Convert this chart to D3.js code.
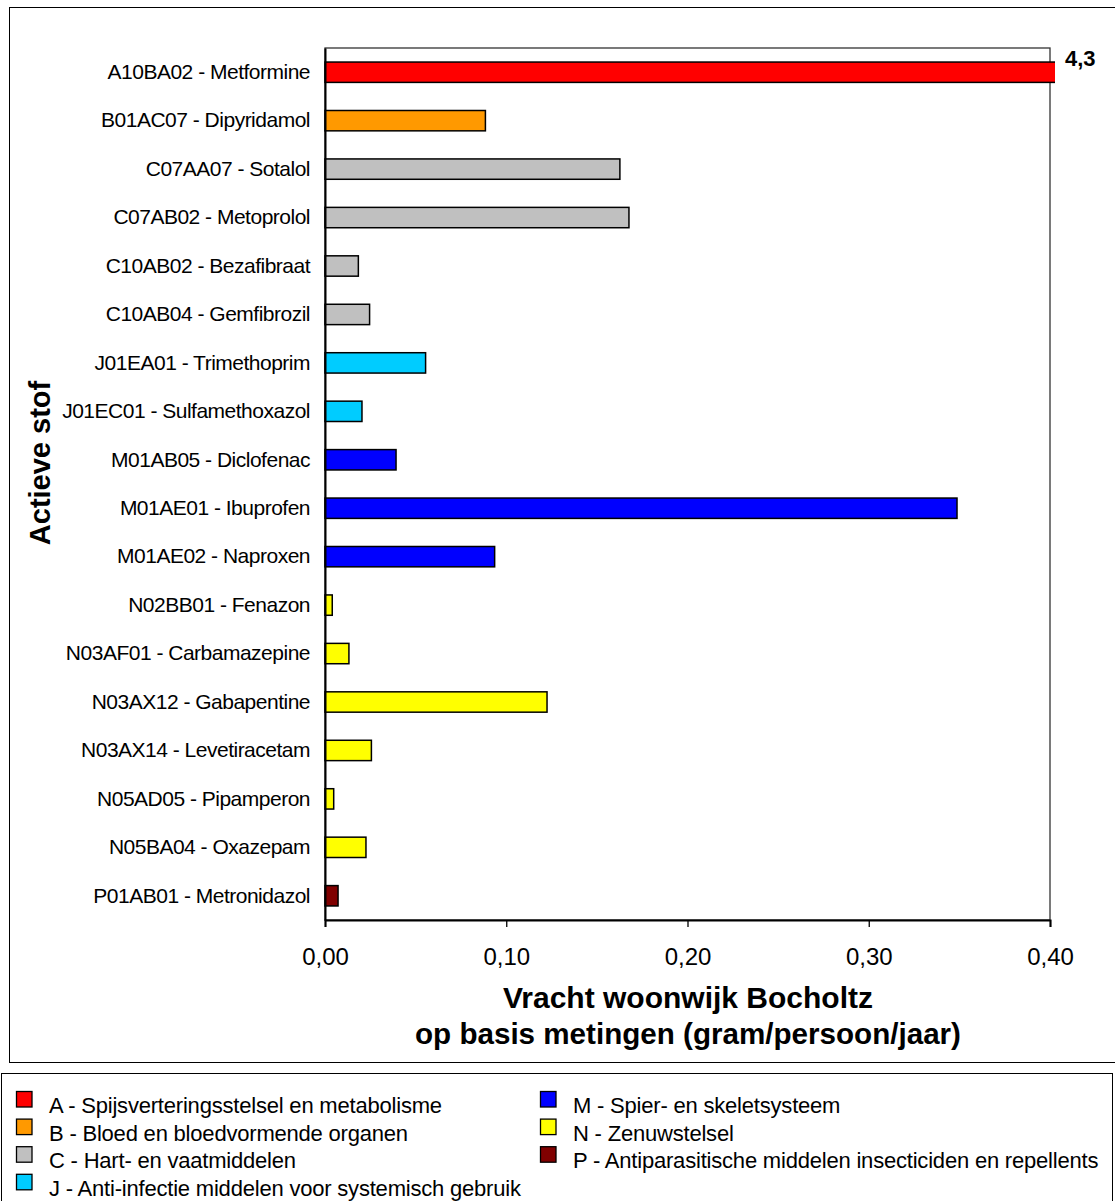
<!DOCTYPE html>
<html>
<head>
<meta charset="utf-8">
<script src="https://cdn.jsdelivr.net/npm/d3@7"></script>
<style>
  html, body { margin: 0; padding: 0; background: #fff; }
  svg { display: block; font-family: "Liberation Sans", Arial, sans-serif; }
</style>
</head>
<body>
<svg id="chart" width="1115" height="1201"></svg>
<script>
const categories = [
  "A10BA02 - Metformine", "B01AC07 - Dipyridamol", "C07AA07 - Sotalol", "C07AB02 - Metoprolol",
  "C10AB02 - Bezafibraat", "C10AB04 - Gemfibrozil", "J01EA01 - Trimethoprim", "J01EC01 - Sulfamethoxazol",
  "M01AB05 - Diclofenac", "M01AE01 - Ibuprofen", "M01AE02 - Naproxen", "N02BB01 - Fenazon",
  "N03AF01 - Carbamazepine", "N03AX12 - Gabapentine", "N03AX14 - Levetiracetam", "N05AD05 - Pipamperon",
  "N05BA04 - Oxazepam", "P01AB01 - Metronidazol"
];
const values = [4.3, 0.0885, 0.1627, 0.1677, 0.0184, 0.0246, 0.0555, 0.0204, 0.0392, 0.3487, 0.0936,
  0.0040, 0.0132, 0.1225, 0.0256, 0.0048, 0.0226, 0.0072];
const groups = ["A", "B", "C", "C", "C", "C", "J", "J", "M", "M", "M", "N", "N", "N", "N", "N", "N", "P"];
const groupKeys = ["A", "B", "C", "J", "M", "N", "P"];
const groupLabels = [
  "A - Spijsverteringsstelsel en metabolisme",
  "B - Bloed en bloedvormende organen",
  "C - Hart- en vaatmiddelen",
  "J - Anti-infectie middelen voor systemisch gebruik",
  "M - Spier- en skeletsysteem",
  "N - Zenuwstelsel",
  "P - Antiparasitische middelen insecticiden en repellents"
];
const groupColors = ["#FF0000", "#FF9900", "#C0C0C0", "#00CCFF", "#0000FF", "#FFFF00", "#800000"];
const xTicks = [0, 0.1, 0.2, 0.3, 0.4];
const overflowLabel = "4,3";
const xTitle = ["Vracht woonwijk Bocholtz", "op basis metingen (gram/persoon/jaar)"];
const yTitle = "Actieve stof";

const svg = d3.select("#chart");
const color = d3.scaleOrdinal().domain(groupKeys).range(groupColors);

// outer chart frame
svg.append("rect").attr("x", 9.5).attr("y", 7.5).attr("width", 1120).attr("height", 1055)
  .attr("fill", "#fff").attr("stroke", "#000").attr("stroke-width", 1);

const plot = { left: 325, right: 1050, top: 48, bottom: 920 };
const x = d3.scaleLinear().domain([0, 0.4]).range([plot.left, plot.right]);
const y = d3.scaleBand().domain(categories).range([plot.top, plot.bottom]).paddingInner(0.58).paddingOuter(0.29);

// plot frame (top & right)
svg.append("rect").attr("x", plot.left).attr("y", plot.top)
  .attr("width", plot.right - plot.left).attr("height", plot.bottom - plot.top)
  .attr("fill", "none").attr("stroke", "#333").attr("stroke-width", 1.3);

// clip allowing slight overflow for the off-scale bar
svg.append("clipPath").attr("id", "clip").append("rect")
  .attr("x", plot.left - 2).attr("y", plot.top - 2)
  .attr("width", plot.right - plot.left + 7).attr("height", plot.bottom - plot.top + 4);

const data = categories.map((c, i) => ({ c, v: values[i], g: groups[i] }));

svg.append("g").attr("clip-path", "url(#clip)")
  .selectAll("rect").data(data).join("rect")
  .attr("x", x(0))
  .attr("y", d => y(d.c))
  .attr("width", d => x(d.v) - x(0))
  .attr("height", y.bandwidth())
  .attr("fill", d => color(d.g))
  .attr("stroke", "#000").attr("stroke-width", 1.5);

// overflow value label
svg.append("text").attr("x", x(0.4) + 15).attr("y", y(categories[0]) + 4)
  .attr("font-size", 22).attr("font-weight", "bold").attr("fill", "#000")
  .text(overflowLabel);

// x axis
const xAxis = d3.axisBottom(x).tickValues(xTicks).tickSize(7).tickPadding(21)
  .tickFormat(d => d3.format(".2f")(d).replace(".", ","));
const gx = svg.append("g").attr("transform", `translate(0,${plot.bottom})`).call(xAxis);
gx.select(".domain").attr("stroke", "#000").attr("stroke-width", 2);
gx.selectAll(".tick line").attr("stroke", "#000").attr("stroke-width", 1.3);
gx.selectAll(".tick text").attr("font-size", 24).attr("fill", "#000")
  .attr("font-family", "Liberation Sans, Arial, sans-serif");

// y axis
const yAxis = d3.axisLeft(y).tickSize(0).tickPadding(15);
const gy = svg.append("g").attr("transform", `translate(${plot.left},0)`).call(yAxis);
gy.select(".domain").attr("stroke", "#000").attr("stroke-width", 2);
gy.selectAll(".tick text").attr("font-size", 21).attr("letter-spacing", -0.5).attr("fill", "#000")
  .attr("font-family", "Liberation Sans, Arial, sans-serif");

// axis titles
svg.append("text").attr("x", 688).attr("y", 1008).attr("text-anchor", "middle")
  .attr("font-size", 30).attr("font-weight", "bold").text(xTitle[0]);
svg.append("text").attr("x", 688).attr("y", 1044).attr("text-anchor", "middle")
  .attr("font-size", 29.6).attr("font-weight", "bold").text(xTitle[1]);
svg.append("text").attr("transform", "translate(50,463) rotate(-90)").attr("text-anchor", "middle")
  .attr("font-size", 29).attr("font-weight", "bold").text(yTitle);

// legend
svg.append("rect").attr("x", 1.5).attr("y", 1073.5).attr("width", 1111).attr("height", 140)
  .attr("fill", "#fff").attr("stroke", "#000").attr("stroke-width", 1);

const legendItems = groupKeys.map((k, i) => ({ k, label: groupLabels[i] }));
const lg = svg.append("g").selectAll("g").data(legendItems).join("g")
  .attr("transform", (d, i) => {
    const col = i < 4 ? 0 : 1;
    const row = i < 4 ? i : i - 4;
    return `translate(${col === 0 ? 16 : 540},${1091 + row * 27.6})`;
  });
lg.append("rect").attr("x", 0.5).attr("y", 0.5).attr("width", 15.5).attr("height", 15.5)
  .attr("fill", d => color(d.k)).attr("stroke", "#000").attr("stroke-width", 1.3);
lg.append("text").attr("x", 33).attr("y", 22).attr("font-size", 22).attr("letter-spacing", -0.2)
  .attr("fill", "#000").text(d => d.label);
</script>
</body>
</html>
